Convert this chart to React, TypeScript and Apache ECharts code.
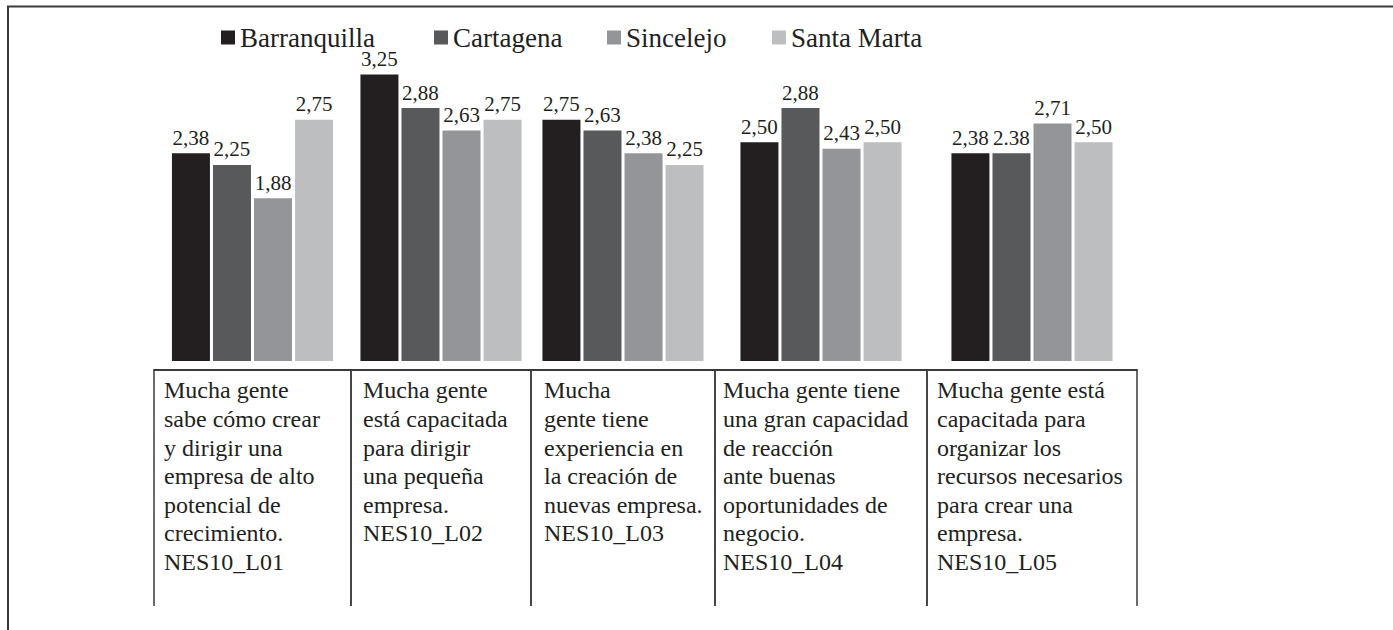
import React, { useEffect, useRef } from "react";
import * as echarts from "echarts";

// ---- data ----
const categories = [
  "Mucha gente\nsabe cómo crear\ny dirigir una\nempresa de alto\npotencial de\ncrecimiento.\nNES10_L01",
  "Mucha gente\nestá capacitada\npara dirigir\nuna pequeña\nempresa.\nNES10_L02",
  "Mucha\ngente tiene\nexperiencia en\nla creación de\nnuevas empresa.\nNES10_L03",
  "Mucha gente tiene\nuna gran capacidad\nde reacción\nante buenas\noportunidades de\nnegocio.\nNES10_L04",
  "Mucha gente está\ncapacitada para\norganizar los\nrecursos necesarios\npara crear una\nempresa.\nNES10_L05",
];
const seriesNames = ["Barranquilla", "Cartagena", "Sincelejo", "Santa Marta"];
const barranquilla = [2.38, 3.25, 2.75, 2.5, 2.38];
const cartagena = [2.25, 2.88, 2.63, 2.88, 2.38];
const sincelejo = [1.88, 2.63, 2.38, 2.43, 2.71];
const santaMarta = [2.75, 2.75, 2.25, 2.5, 2.5];
// label texts that differ from the default "d,dd" format in the source
const cartagenaLabelOverrides: (string | null)[] = [null, null, null, null, "2.38"];

// ---- layout / style ----
const W = 1393;
const H = 630;
const cellEdges = [154, 351, 531, 715, 927, 1137];
const cellTextOffset = [10, 12, 13, 8, 10];
const colors = ["#231f20", "#58595b", "#939598", "#bcbec0"];
const legendLeft = [216, 429, 602, 767];
const FONT = "'Times New Roman', 'Liberation Serif', 'DejaVu Serif', serif";
const LINE = "#3a3a3a";

export default function App() {
  const ref = useRef<HTMLDivElement>(null);

  useEffect(() => {
    if (!ref.current) return;
    const chart = echarts.init(ref.current, undefined, { renderer: "svg" });
    const allSeries = [barranquilla, cartagena, sincelejo, santaMarta];
    const overrides = [null, cartagenaLabelOverrides, null, null];

    const grids: any[] = [];
    const xAxes: any[] = [];
    const yAxes: any[] = [];
    const series: any[] = [];
    const graphics: any[] = [];

    categories.forEach((cat, i) => {
      grids.push({
        left: cellEdges[i],
        width: cellEdges[i + 1] - cellEdges[i],
        top: 52,
        bottom: H - 361,
        containLabel: false,
        outerBoundsMode: "none",
      });
      xAxes.push({
        type: "category",
        gridIndex: i,
        data: [cat],
        offset: 9,
        axisLine: { show: true, lineStyle: { color: LINE, width: 2 } },
        axisTick: { show: true, length: 236, alignWithLabel: false, lineStyle: { color: LINE, width: 1.5 } },
        axisLabel: { show: false },
        splitLine: { show: false },
      });
      yAxes.push({
        type: "value",
        gridIndex: i,
        min: 0.08,
        max: 3.5,
        show: false,
        splitLine: { show: false },
      });
      allSeries.forEach((vals, s) => {
        const ov = overrides[s];
        const item: any =
          ov && ov[i] ? { value: vals[i], label: { formatter: ov[i] } } : vals[i];
        series.push({
          type: "bar",
          name: seriesNames[s],
          xAxisIndex: i,
          yAxisIndex: i,
          data: [item],
          barWidth: 38,
          barGap: "8%",
          clip: true,
          itemStyle: { color: colors[s] },
          label: {
            show: true,
            position: "top",
            distance: 5,
            fontSize: 21,
            fontFamily: FONT,
            color: "#231f20",
            formatter: (p: any) => Number(p.value).toFixed(2).replace(".", ","),
          },
        });
      });
      graphics.push({
        type: "text",
        x: cellEdges[i] + cellTextOffset[i],
        y: 376,
        silent: true,
        style: {
          text: cat,
          fontSize: 24,
          fontFamily: FONT,
          lineHeight: 28.6,
          fill: "#231f20",
          align: "left",
          verticalAlign: "top",
        },
      });
    });

    graphics.push(
      {
        type: "line",
        silent: true,
        shape: { x1: 7, y1: 6.5, x2: W, y2: 6.5 },
        style: { stroke: LINE, lineWidth: 2 },
      },
      {
        type: "line",
        silent: true,
        shape: { x1: 8, y1: 6, x2: 8, y2: H },
        style: { stroke: LINE, lineWidth: 2 },
      }
    );

    const legends = seriesNames.map((n, k) => ({
      data: [n],
      left: legendLeft[k],
      top: 19,
      icon: "rect",
      itemWidth: 14,
      itemHeight: 14,
      selectedMode: false,
      textStyle: { fontSize: 27, fontFamily: FONT, color: "#231f20" },
    }));

    chart.setOption({
      animation: false,
      backgroundColor: "#ffffff",
      textStyle: { fontFamily: FONT },
      legend: legends,
      grid: grids,
      xAxis: xAxes,
      yAxis: yAxes,
      series,
      graphic: graphics,
    });

    return () => chart.dispose();
  }, []);

  return (
    <div
      ref={ref}
      style={{ position: "fixed", left: 0, top: 0, width: W, height: H, background: "#fff", fontFamily: "'Liberation Serif', serif" }}
    />
  );
}
